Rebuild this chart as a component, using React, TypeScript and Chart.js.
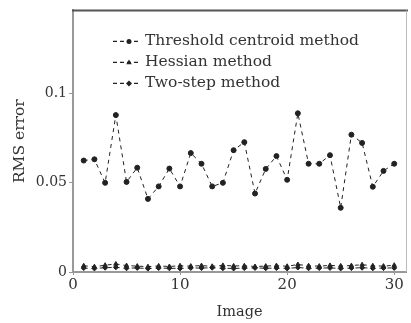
import React, { useEffect, useRef } from "react";
import { Chart, registerables } from "chart.js";
Chart.register(...registerables);

const images = [1, 2, 3, 4, 5, 6, 7, 8, 9, 10, 11, 12, 13, 14, 15, 16, 17, 18, 19, 20, 21, 22, 23, 24, 25, 26, 27, 28, 29, 30];
const thresholdRms = [0.0625, 0.0632, 0.050, 0.088, 0.0505, 0.0585, 0.041, 0.048, 0.058, 0.048, 0.0667, 0.0607, 0.048, 0.050, 0.0683, 0.0728, 0.044, 0.0578, 0.065, 0.0517, 0.089, 0.0607, 0.0607, 0.0655, 0.036, 0.077, 0.0724, 0.0478, 0.0567, 0.0607];
const hessianRms = [0.0035, 0.0030, 0.0038, 0.0045, 0.0036, 0.0033, 0.0030, 0.0034, 0.0031, 0.0035, 0.0033, 0.0036, 0.0032, 0.0037, 0.0034, 0.0035, 0.0031, 0.0033, 0.0036, 0.0032, 0.0042, 0.0035, 0.0033, 0.0037, 0.0034, 0.0036, 0.0041, 0.0035, 0.0033, 0.0038];
const twoStepRms = [0.0022, 0.0020, 0.0024, 0.0026, 0.0021, 0.0023, 0.0019, 0.0022, 0.0021, 0.0020, 0.0023, 0.0022, 0.0024, 0.0021, 0.0020, 0.0022, 0.0023, 0.0021, 0.0022, 0.0020, 0.0025, 0.0021, 0.0022, 0.0023, 0.0020, 0.0022, 0.0024, 0.0021, 0.0022, 0.0023];
const seriesLabels = ["Threshold centroid method", "Hessian method", "Two-step method"];
const xTicks = [0, 10, 20, 30];
const yTicks = [0, 0.05, 0.1];
const yTickLabels = ["0", "0.05", "0.1"];

const FONT = "'DejaVu Serif', 'Liberation Serif', serif";
const TEXT = "#333";
const LINE = "#222";

const framePlugin = {
  id: "frame",
  afterDraw(chart: any) {
    const { ctx, chartArea } = chart;
    ctx.save();
    ctx.strokeStyle = "#555";
    ctx.lineWidth = 2;
    ctx.beginPath();
    ctx.moveTo(chartArea.left - 1, chartArea.top);
    ctx.lineTo(chartArea.right + 2, chartArea.top);
    ctx.stroke();
    ctx.strokeStyle = "#bbb";
    ctx.lineWidth = 1;
    ctx.beginPath();
    ctx.moveTo(chartArea.right + 0.5, chartArea.top);
    ctx.lineTo(chartArea.right + 0.5, chartArea.bottom);
    ctx.stroke();
    ctx.restore();
  },
};

const markerStyles = ["circle", "triangle", "rectRot"];

function drawMarker(ctx: CanvasRenderingContext2D, style: string, x: number, y: number, r: number) {
  ctx.beginPath();
  if (style === "circle") {
    ctx.arc(x, y, r, 0, Math.PI * 2);
  } else if (style === "triangle") {
    ctx.moveTo(x, y - r * 1.2);
    ctx.lineTo(x + r * 1.1, y + r * 0.7);
    ctx.lineTo(x - r * 1.1, y + r * 0.7);
    ctx.closePath();
  } else {
    ctx.moveTo(x, y - r * 1.2);
    ctx.lineTo(x + r * 1.2, y);
    ctx.lineTo(x, y + r * 1.2);
    ctx.lineTo(x - r * 1.2, y);
    ctx.closePath();
  }
  ctx.fill();
}

const legendPlugin = {
  id: "insideLegend",
  afterDraw(chart: any) {
    const { ctx, chartArea } = chart;
    ctx.save();
    const x0 = chartArea.left + 40;
    const y0 = chartArea.top + 31;
    const gap = 21;
    seriesLabels.forEach((label, i) => {
      const y = y0 + i * gap;
      ctx.strokeStyle = LINE;
      ctx.lineWidth = 1.2;
      ctx.setLineDash([4, 3]);
      ctx.beginPath();
      ctx.moveTo(x0, y);
      ctx.lineTo(x0 + 28, y);
      ctx.stroke();
      ctx.setLineDash([]);
      ctx.fillStyle = LINE;
      drawMarker(ctx, markerStyles[i], x0 + 16, y, 2.5);
      ctx.fillStyle = TEXT;
      ctx.font = `15.5px ${FONT}`;
      ctx.textBaseline = "middle";
      ctx.textAlign = "left";
      ctx.fillText(label, x0 + 32, y);
    });
    ctx.restore();
  },
};

export default function App() {
  const ref = useRef<HTMLCanvasElement>(null);
  useEffect(() => {
    document.body.style.margin = "0";
    const canvas = ref.current!;
    const mk = (label: string, data: number[], style: string) => ({
      label,
      data: images.map((x, i) => ({ x, y: data[i] })),
      borderColor: LINE,
      backgroundColor: LINE,
      borderWidth: 1,
      borderDash: [4, 4],
      pointStyle: style,
      pointRadius: 2.5,
      pointBorderWidth: 1,
      pointBackgroundColor: LINE,
      pointBorderColor: LINE,
      tension: 0,
    });
    const chart = new Chart(canvas, {
      type: "line",
      data: {
        datasets: [
          mk(seriesLabels[0], thresholdRms, markerStyles[0]),
          mk(seriesLabels[1], hessianRms, markerStyles[1]),
          mk(seriesLabels[2], twoStepRms, markerStyles[2]),
        ],
      },
      options: {
        animation: false,
        responsive: false,
        devicePixelRatio: 1,
        layout: { padding: { top: 8, right: 2, left: 0, bottom: 0 } },
        plugins: { legend: { display: false }, tooltip: { enabled: false } },
        scales: {
          x: {
            type: "linear",
            min: 0,
            max: 31.1,
            afterBuildTicks: (s: any) => {
              s.ticks = xTicks.map((v) => ({ value: v }));
            },
            afterFit: (s: any) => {
              s.height = 51;
            },
            grid: { drawOnChartArea: false, tickLength: 3, color: "#999" },
            border: { color: "#999", width: 2 },
            ticks: {
              color: TEXT,
              font: { family: FONT, size: 15 },
              padding: 1,
              maxRotation: 0,
              callback: (v: any) => String(v),
            },
            title: {
              display: true,
              text: "Image",
              color: TEXT,
              font: { family: FONT, size: 14.5 },
              padding: { top: 0, bottom: 2 },
            },
          },
          y: {
            type: "linear",
            min: 0,
            max: 0.1467,
            afterBuildTicks: (s: any) => {
              s.ticks = yTicks.map((v) => ({ value: v }));
            },
            afterFit: (s: any) => {
              s.width = 73;
            },
            grid: { drawOnChartArea: false, tickLength: 4, color: "#999" },
            border: { color: "#999", width: 2 },
            ticks: {
              color: TEXT,
              font: { family: FONT, size: 14 },
              padding: 2,
              callback: (v: any) => {
                const i = yTicks.indexOf(v);
                return i >= 0 ? yTickLabels[i] : "";
              },
            },
            title: {
              display: true,
              text: "RMS error",
              color: TEXT,
              font: { family: FONT, size: 15.5 },
              padding: { top: 11, bottom: 0 },
            },
          },
        },
      },
      plugins: [framePlugin, legendPlugin],
    } as any);
    return () => chart.destroy();
  }, []);
  return <canvas ref={ref} width={411} height={323} style={{ display: "block" }} />;
}
